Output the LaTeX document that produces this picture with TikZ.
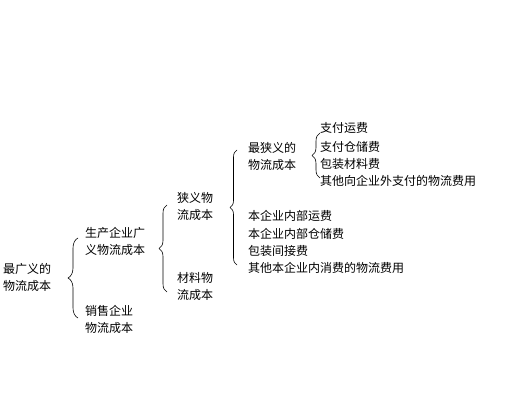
\documentclass[tikz,border=0pt]{standalone}
\usepackage{fontspec}
\setmainfont{Noto Sans CJK SC}
\usepackage{tikz}
\usetikzlibrary{decorations.pathreplacing}

\begin{document}
\begin{tikzpicture}[line cap=round,line join=round,x=1pt,y=-1pt,
  lbl/.style={anchor=west,inner sep=0pt,align=left,font=\fontsize{12}{17}\selectfont},
  brc/.style={decorate,decoration={brace,amplitude=#1},line width=0.6pt}]
\useasboundingbox (0,0) rectangle (506,419);
% texts
\node[lbl] (widest) at (3,277) {最广义的\\物流成本};
\node[lbl] (prod) at (85,241.5) {生产企业广\\义物流成本};
\node[lbl] (sale) at (85,319.5) {销售企业\\物流成本};
\node[lbl] (narrow) at (177,206.5) {狭义物\\流成本};
\node[lbl] (material) at (177,286.5) {材料物\\流成本};
\node[lbl] (narrowest) at (248,156) {最狭义的\\物流成本};
\node[lbl] (pay1) at (320,128) {支付运费};
\node[lbl] (pay2) at (320,147) {支付仓储费};
\node[lbl] (pay3) at (320,164) {包装材料费};
\node[lbl] (pay4) at (320,181) {其他向企业外支付的物流费用};
\node[lbl] (own1) at (248,216) {本企业内部运费};
\node[lbl] (own2) at (248,234) {本企业内部仓储费};
\node[lbl] (own3) at (248,251) {包装间接费};
\node[lbl] (own4) at (248,268) {其他本企业内消费的物流费用};
% braces
\coordinate (b1top) at (78,238);
\coordinate (b1bot) at (78,318);
\coordinate (b2top) at (167,205);
\coordinate (b2bot) at (167,292);
\coordinate (b3top) at (237,150);
\coordinate (b3bot) at (237,265);
\coordinate (b4top) at (320,133);
\coordinate (b4bot) at (320,178);
\draw[brc=10pt] (b1bot) -- (b1top);
\draw[brc=8pt] (b2bot) -- (b2top);
\draw[brc=7pt] (b3bot) -- (b3top);
\draw[brc=8pt] (b4bot) -- (b4top);
\end{tikzpicture}
\end{document}
